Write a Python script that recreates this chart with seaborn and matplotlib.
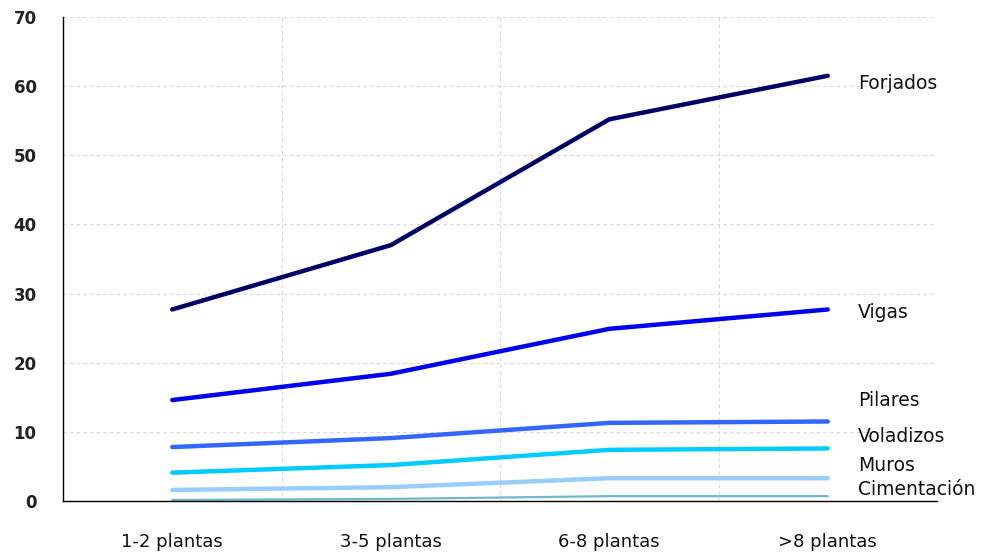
import matplotlib
matplotlib.use("Agg")
import matplotlib.pyplot as plt
import seaborn as sns
import pandas as pd
import numpy as np

categories = ["1-2 plantas", "3-5 plantas", "6-8 plantas", ">8 plantas"]
series_names = ["Forjados", "Vigas", "Pilares", "Voladizos", "Muros", "Cimentación"]
forjados = [27.7, 37.0, 55.2, 61.5]
vigas = [14.6, 18.4, 24.9, 27.7]
pilares = [7.8, 9.1, 11.3, 11.5]
voladizos = [4.1, 5.2, 7.4, 7.6]
muros = [1.6, 2.0, 3.3, 3.3]
cimentacion = [0.15, 0.3, 0.7, 0.7]
yticks = [0, 10, 20, 30, 40, 50, 60, 70]

values = [forjados, vigas, pilares, voladizos, muros, cimentacion]
colors = ["#000066", "#0000F0", "#3366FF", "#00CCFF", "#99CCFF", "#6FB8CC"]
widths = [3.2, 3.2, 3.2, 3.2, 3.2, 1.6]
label_y = [60.4, 27.2, 14.6, 9.3, 5.1, 1.6]

rows = []
for name, vals in zip(series_names, values):
    for c, v in zip(categories, vals):
        rows.append({"cat": c, "val": v, "serie": name})
df = pd.DataFrame(rows)

sns.set_style("white")
plt.rcParams["font.family"] = ["DejaVu Sans"]

fig = plt.figure(figsize=(9.89, 5.53), dpi=100)
ax = fig.add_axes([63/989, 1 - 501/553, (937-63)/989, (501-17)/553])

for name, col, lw in zip(series_names, colors, widths):
    sub = df[df["serie"] == name]
    sns.lineplot(data=sub, x="cat", y="val", color=col, linewidth=lw, ax=ax,
                 sort=False, legend=False, solid_capstyle="round")

ax.set_xlim(-0.5, 3.5)
ax.set_ylim(0, 70)
ax.set_yticks(yticks)
ax.set_yticklabels([str(t) for t in yticks], fontsize=12, fontweight="bold",
                   color="#222222")
ax.set_xticks(np.arange(-0.5, 4.0, 1.0))
ax.set_xticklabels([])
ax.set_xticks(np.arange(len(categories)), minor=True)
ax.set_xticklabels(categories, minor=True, fontsize=13, color="#111111")
ax.tick_params(axis="x", which="major", direction="out", length=7, width=1, color="black")
ax.tick_params(axis="x", which="minor", length=0, pad=23)
ax.tick_params(axis="y", direction="out", length=5, width=1, color="black", pad=14)
ax.set_xlabel("")
ax.set_ylabel("")

ax.grid(True, which="major", axis="both", color="#d8d8d8", linestyle=(0, (3, 3)), linewidth=0.8)
ax.set_axisbelow(True)
for s in ["top", "right"]:
    ax.spines[s].set_visible(False)
ax.spines["left"].set_color("black")
ax.spines["bottom"].set_color("black")
ax.spines["left"].set_linewidth(1)
ax.spines["bottom"].set_linewidth(1)

for name, ly in zip(series_names, label_y):
    ax.text(3.14, ly, name, fontsize=13.5, va="center", ha="left", color="#111111",
            clip_on=False)

fig.savefig("out.png", dpi=100)
